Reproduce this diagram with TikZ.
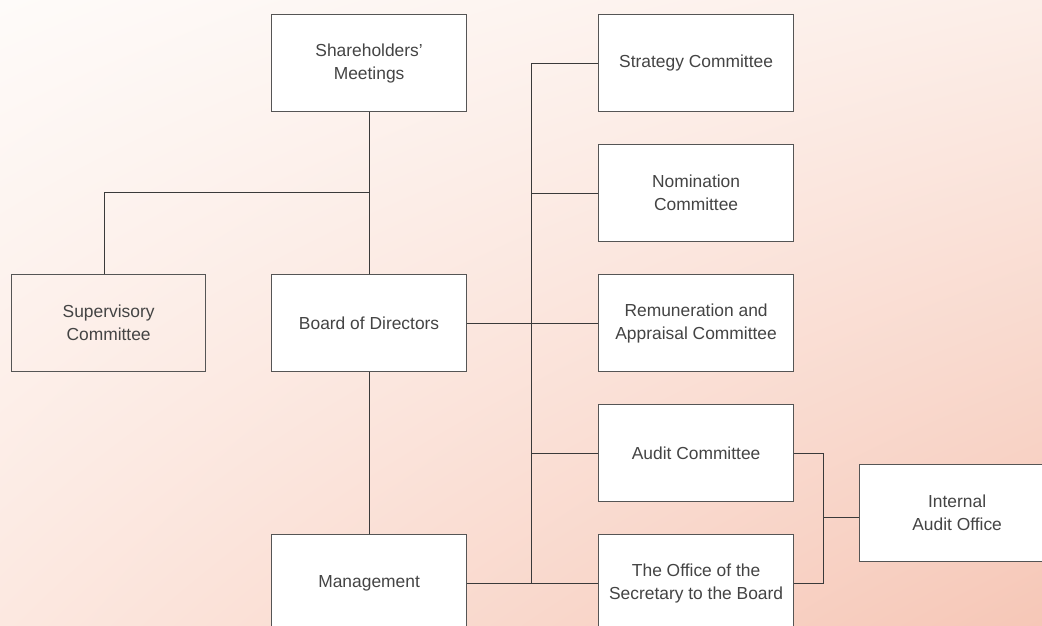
\documentclass[tikz,border=0pt]{standalone}
\usepackage{fontspec}
\setmainfont{Liberation Sans}
\usetikzlibrary{shadings}
\begin{document}
\begin{tikzpicture}[x=1pt,y=-1pt,
  orgbox/.style={draw=boxline, line width=1.2pt, fill=white, anchor=north west,
    minimum width=195pt, minimum height=97pt, inner sep=0pt, align=center,
    text=labeltext, font=\fontsize{17.4}{23}\selectfont},
  link/.style={draw=linkline, line width=1pt}]
\definecolor{boxline}{HTML}{555555}
\definecolor{linkline}{HTML}{3A3A3A}
\definecolor{labeltext}{HTML}{444444}
\definecolor{bgA}{HTML}{FEFBF9}
\definecolor{bgB}{HTML}{FCEEE8}
\definecolor{bgC}{HTML}{FCE8E0}
\definecolor{bgD}{HTML}{F6C7B7}
% page area and background wash
\useasboundingbox (0,0) rectangle (1042,625);
\shade[upper left=bgA, upper right=bgB, lower left=bgC, lower right=bgD]
  (0,0) rectangle (1042,625);

% left column
\node[orgbox] (sh)  at (271,14)  {Shareholders'\\Meetings};
\node[orgbox, fill=none, minimum width=194pt] (sup) at (11,274) {Supervisory\\Committee};
\node[orgbox] (bod) at (271,274) {Board of Directors};
\node[orgbox] (mgm) at (271,534) {Management};

% committees
\node[orgbox] (str) at (598,14)  {Strategy Committee};
\node[orgbox] (nom) at (598,144) {Nomination\\Committee};
\node[orgbox] (rem) at (598,274) {Remuneration and\\Appraisal Committee};
\node[orgbox] (aud) at (598,404) {Audit Committee};
\node[orgbox] (off) at (598,534) {The Office of the\\Secretary to the Board};
\node[orgbox] (iao) at (859,464) {Internal\\Audit Office};

% junction columns
\coordinate (supj) at (104.5,192.5);
\coordinate (trk)  at (531.5,0);
\coordinate (brk)  at (823.5,0);
\coordinate (iaoj) at (0,517.5);

% main chain
\draw[link] (sh.south) -- (bod.north);
\draw[link] (bod.south) -- (mgm.north);
\draw[link] (supj |- sup.north) |- (bod.north |- supj);

% committee trunk
\draw[link] (str.west) -| (trk |- off.west);
\draw[link] (nom.west) -- (trk |- nom.west);
\draw[link] (bod.east) -- (rem.west);
\draw[link] (aud.west) -- (trk |- aud.west);
\draw[link] (mgm.east) -- (off.west);

% internal audit bracket
\draw[link] (aud.east) -| (brk |- off.east) -- (off.east);
\draw[link] (brk |- iaoj) -- (iao.west |- iaoj);
\end{tikzpicture}
\end{document}
